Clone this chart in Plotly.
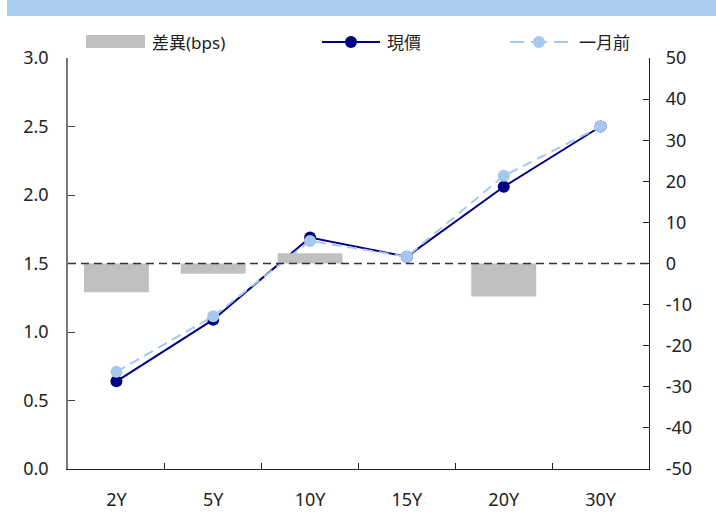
import plotly.graph_objects as go

# Yield curve data
tenors = ["2Y", "5Y", "10Y", "15Y", "20Y", "30Y"]
current = [0.64, 1.09, 1.69, 1.55, 2.06, 2.50]
month_ago = [0.71, 1.115, 1.665, 1.55, 2.14, 2.50]
diff_bps = [-7.0, -2.5, 2.5, 0.0, -8.0, 0.0]

left_ticks = [0.0, 0.5, 1.0, 1.5, 2.0, 2.5, 3.0]
right_ticks = [-50, -40, -30, -20, -10, 0, 10, 20, 30, 40, 50]

FONT = "Noto Sans, Noto Sans CJK TC, sans-serif"
NAVY = "#000080"
LIGHT = "#a6c8ee"
GREY = "#c0c0c0"
DASH = "10px,6px"

fig = go.Figure()

fig.add_trace(go.Bar(
    x=tenors, y=diff_bps, yaxis="y2", name="差異(bps)",
    marker=dict(color=GREY, line=dict(width=0)), width=0.67,
))
fig.add_trace(go.Scatter(
    x=tenors, y=current, name="現價", mode="lines+markers",
    line=dict(color=NAVY, width=2), marker=dict(color=NAVY, size=12),
))
fig.add_trace(go.Scatter(
    x=tenors, y=month_ago, name="一月前", mode="lines+markers",
    line=dict(color=LIGHT, width=2, dash=DASH), marker=dict(color=LIGHT, size=12),
))

shapes = [
    # header band
    dict(type="rect", xref="paper", yref="paper", x0=-0.105, x1=1.2,
         y0=(469 - 16) / 411, y1=(469 - 0) / 411 + 0.01,
         fillcolor="#a9cbee", line=dict(width=0), layer="below"),
    # zero line for the spread axis
    dict(type="line", xref="paper", yref="y2", x0=0, x1=1, y0=0, y1=0,
         line=dict(color="#333333", width=1.3, dash="8px,5px"), layer="above"),
]

# legend row
ly = (469 - 42) / 411
shapes.append(dict(type="rect", xref="paper", yref="paper",
                   x0=(86 - 68) / 581, x1=(145 - 68) / 581,
                   y0=(469 - 48) / 411, y1=(469 - 35) / 411,
                   fillcolor=GREY, line=dict(width=0)))
shapes.append(dict(type="line", xref="paper", yref="paper",
                   x0=(322 - 68) / 581, x1=(380 - 68) / 581, y0=ly, y1=ly,
                   line=dict(color=NAVY, width=2)))
shapes.append(dict(type="circle", xref="paper", yref="paper",
                   xsizemode="pixel", ysizemode="pixel",
                   xanchor=(351 - 68) / 581, yanchor=ly,
                   x0=-6, x1=6, y0=-6, y1=6,
                   fillcolor=NAVY, line=dict(width=0)))
for x0, x1 in [(510, 524), (531, 547), (554, 568)]:
    shapes.append(dict(type="line", xref="paper", yref="paper",
                       x0=(x0 - 68) / 581, x1=(x1 - 68) / 581, y0=ly, y1=ly,
                       line=dict(color=LIGHT, width=2)))
shapes.append(dict(type="circle", xref="paper", yref="paper",
                   xsizemode="pixel", ysizemode="pixel",
                   xanchor=(539 - 68) / 581, yanchor=ly,
                   x0=-6, x1=6, y0=-6, y1=6,
                   fillcolor=LIGHT, line=dict(width=0)))

annotations = [
    dict(text="差異(bps)", x=(150 - 68) / 581, y=ly),
    dict(text="現價", x=(385 - 68) / 581, y=ly),
    dict(text="一月前", x=(577 - 68) / 581, y=ly),
]
for a in annotations:
    a.update(xref="paper", yref="paper", xanchor="left", yanchor="middle",
             showarrow=False, font=dict(family=FONT, size=17, color="#222222"))

fig.update_layout(
    width=716, height=512,
    margin=dict(l=68, r=67, t=58, b=43, autoexpand=False),
    paper_bgcolor="white", plot_bgcolor="white",
    showlegend=False, bargap=0.33,
    font=dict(family=FONT, size=18, color="#222222"),
    shapes=shapes, annotations=annotations,
    xaxis=dict(
        type="category", range=[-0.5, 5.5], tickson="boundaries",
        ticks="inside", ticklen=6, tickcolor="#222222",
        showline=True, linecolor="#222222", linewidth=1,
        showgrid=False, zeroline=False, ticklabelstandoff=14,
        automargin=False, tickfont=dict(family=FONT, size=18),
    ),
    yaxis=dict(
        range=[0, 3.0], tickvals=left_ticks, ticktext=[f"{v:.1f}" for v in left_ticks],
        ticks="inside", ticklen=7, tickcolor="#444444",
        showline=True, linecolor="#777777", linewidth=1.5,
        showgrid=False, zeroline=False, ticklabelstandoff=14,
        automargin=False, tickfont=dict(family=FONT, size=18),
    ),
    yaxis2=dict(
        range=[-50, 50], tickvals=right_ticks, ticktext=[str(v) for v in right_ticks],
        overlaying="y", side="right",
        ticks="inside", ticklen=6, tickcolor="#222222",
        showline=True, linecolor="#222222", linewidth=1.3,
        showgrid=False, zeroline=False, ticklabelstandoff=12,
        automargin=False, tickfont=dict(family=FONT, size=18),
    ),
)

fig.write_html("out.html")
